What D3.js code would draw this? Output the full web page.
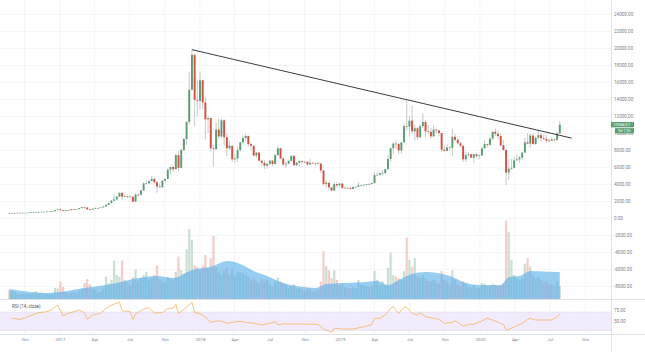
<!DOCTYPE html>
<html>
<head>
<meta charset="utf-8">
<script src="https://cdn.jsdelivr.net/npm/d3@7"></script>
<style>
  body { margin: 0; background: #fff; }
  svg { display: block; font-family: Roboto, "Noto Sans", sans-serif; }
</style>
</head>
<body>
<div id="chart"></div>
<script>
// weekly candles: [week start, open, high, low, close, volume]
var candles = [
  ["2016-08-22",583,588,565,573,11], ["2016-08-29",573,613,567,607,10], ["2016-09-05",607,630,600,608,9],
  ["2016-09-12",608,614,600,609,7], ["2016-09-19",609,612,590,602,6], ["2016-09-26",602,617,598,612,7],
  ["2016-10-03",612,622,605,616,6], ["2016-10-10",616,645,612,640,7], ["2016-10-17",640,660,628,657,6],
  ["2016-10-24",657,720,652,700,9], ["2016-10-31",700,742,690,704,10], ["2016-11-07",704,718,690,705,8],
  ["2016-11-14",705,752,700,730,8], ["2016-11-21",730,742,725,735,6], ["2016-11-28",735,773,730,765,7],
  ["2016-12-05",765,780,755,775,6], ["2016-12-12",775,792,770,790,7], ["2016-12-19",790,935,788,920,14],
  ["2016-12-26",920,1003,880,998,13],
  ["2017-01-02",998,1155,810,910,22], ["2017-01-09",910,910,750,822,15], ["2017-01-16",822,925,815,920,9],
  ["2017-01-23",920,930,880,915,7], ["2017-01-30",915,1030,915,1020,8], ["2017-02-06",1020,1060,940,1000,9],
  ["2017-02-13",1000,1060,990,1050,7], ["2017-02-20",1050,1200,1040,1170,10], ["2017-02-27",1170,1290,1150,1270,13],
  ["2017-03-06",1270,1330,1050,1230,20], ["2017-03-13",1230,1250,950,1020,25], ["2017-03-20",1020,1080,890,965,18],
  ["2017-03-27",965,1100,935,1090,13], ["2017-04-03",1090,1210,1070,1185,12], ["2017-04-10",1185,1215,1160,1170,8],
  ["2017-04-17",1170,1260,1165,1240,9], ["2017-04-24",1240,1350,1235,1350,13], ["2017-05-01",1350,1640,1340,1550,28],
  ["2017-05-08",1550,1800,1550,1760,20], ["2017-05-15",1760,2100,1720,2040,24], ["2017-05-22",2040,2780,2010,2180,48],
  ["2017-05-29",2180,2560,2070,2520,30], ["2017-06-05",2520,3000,2450,2950,28], ["2017-06-12",2950,2980,2080,2520,48],
  ["2017-06-19",2520,2780,2400,2560,24], ["2017-06-26",2560,2600,2320,2500,20], ["2017-07-03",2500,2660,2430,2510,16],
  ["2017-07-10",2510,2520,1840,1920,27], ["2017-07-17",1920,2900,1920,2750,37], ["2017-07-24",2750,2800,2480,2740,22],
  ["2017-07-31",2740,3300,2620,3240,26], ["2017-08-07",3240,4200,3200,4060,30], ["2017-08-14",4060,4480,3950,4100,34],
  ["2017-08-21",4100,4400,3980,4350,24], ["2017-08-28",4350,4980,4300,4600,26], ["2017-09-04",4600,4750,4100,4200,30],
  ["2017-09-11",4200,4350,2970,3700,42], ["2017-09-18",3700,4100,3570,3620,24], ["2017-09-25",3620,4400,3600,4400,22],
  ["2017-10-02",4400,4620,4150,4600,20], ["2017-10-09",4600,5850,4580,5680,28], ["2017-10-16",5680,6000,5100,6000,26],
  ["2017-10-23",6000,6200,5450,5750,24], ["2017-10-30",5750,7600,5700,7400,34], ["2017-11-06",7400,7900,5500,5900,53],
  ["2017-11-13",5900,8200,5850,8000,36], ["2017-11-20",8000,9400,7900,9300,32], ["2017-11-27",9300,11400,8600,11300,62],
  ["2017-12-04",11300,17200,11000,15100,88], ["2017-12-11",15100,19800,15000,19200,74], ["2017-12-18",19200,19200,10800,13900,42],
  ["2017-12-25",13900,16300,12000,13800,40],
  ["2018-01-01",13800,17250,12800,16200,36], ["2018-01-08",16200,16300,12800,13600,42], ["2018-01-15",13600,14200,9200,11600,55],
  ["2018-01-22",11600,12000,10000,11750,38], ["2018-01-29",11750,11800,7800,8200,51], ["2018-02-05",8200,8600,6000,8100,79],
  ["2018-02-12",8100,11200,8000,10400,40], ["2018-02-19",10400,11700,9300,9600,34], ["2018-02-26",9600,11700,9400,11500,30],
  ["2018-03-05",11500,11600,8500,9500,36], ["2018-03-12",9500,9900,7300,8200,40], ["2018-03-19",8200,9100,8000,8500,30],
  ["2018-03-26",8500,8500,6600,6900,38], ["2018-04-02",6900,7500,6500,7000,28], ["2018-04-09",7000,8400,6600,8000,34],
  ["2018-04-16",8000,9000,7800,8900,33], ["2018-04-23",8900,9750,8700,9400,32], ["2018-04-30",9400,9950,9000,9650,30],
  ["2018-05-07",9650,9700,8350,8700,28], ["2018-05-14",8700,8880,7950,8500,24], ["2018-05-21",8500,8500,7300,7350,26],
  ["2018-05-28",7350,7750,7050,7700,22], ["2018-06-04",7700,7780,6650,6750,20], ["2018-06-11",6750,6800,6120,6500,25],
  ["2018-06-18",6500,6850,5750,6150,22], ["2018-06-25",6150,6400,5800,6380,24], ["2018-07-02",6380,6800,6250,6750,18],
  ["2018-07-09",6750,6800,6080,6350,16], ["2018-07-16",6350,7600,6300,7400,23], ["2018-07-23",7400,8500,7350,8200,27],
  ["2018-07-30",8200,8250,6900,7000,22], ["2018-08-06",7000,7150,6100,6300,20], ["2018-08-13",6300,6620,5880,6400,19],
  ["2018-08-20",6400,6850,6300,6700,14], ["2018-08-27",6700,7400,6700,7300,16], ["2018-09-03",7300,7410,6200,6200,18],
  ["2018-09-10",6200,6580,6150,6500,13], ["2018-09-17",6500,6800,6100,6700,14], ["2018-09-24",6700,6750,6400,6600,12],
  ["2018-10-01",6600,6750,6450,6610,11], ["2018-10-08",6610,6700,6150,6300,14], ["2018-10-15",6300,7000,6300,6500,13],
  ["2018-10-22",6500,6530,6400,6420,9], ["2018-10-29",6420,6500,6250,6480,10], ["2018-11-05",6480,6600,6350,6400,11],
  ["2018-11-12",6400,6450,5300,5600,22], ["2018-11-19",5600,5600,3800,4000,60], ["2018-11-26",4000,4400,3500,4150,41],
  ["2018-12-03",4150,4150,3300,3600,36], ["2018-12-10",3600,3600,3150,3230,26], ["2018-12-17",3230,4200,3220,4000,36],
  ["2018-12-24",4000,4260,3550,3850,24], ["2018-12-31",3850,4100,3650,4050,18],
  ["2019-01-07",4050,4100,3500,3510,20], ["2019-01-14",3510,3720,3480,3550,15], ["2019-01-21",3550,3650,3480,3540,13],
  ["2019-01-28",3540,3610,3350,3420,14], ["2019-02-04",3420,3700,3390,3650,15], ["2019-02-11",3650,3690,3550,3670,13],
  ["2019-02-18",3670,4200,3650,3850,24], ["2019-02-25",3850,3900,3700,3880,18], ["2019-03-04",3880,3950,3700,3920,17],
  ["2019-03-11",3920,4000,3820,4000,16], ["2019-03-18",4000,4100,3950,3990,15], ["2019-03-25",3990,4150,3960,4100,16],
  ["2019-04-01",4100,5350,4100,5050,35], ["2019-04-08",5050,5450,4950,5070,24], ["2019-04-15",5070,5350,5020,5280,18],
  ["2019-04-22",5280,5650,5000,5300,22], ["2019-04-29",5300,5800,5200,5750,18], ["2019-05-06",5750,7400,5700,6950,39],
  ["2019-05-13",6950,8350,6600,8200,58], ["2019-05-20",8200,8950,7500,8750,30], ["2019-05-27",8750,9100,8100,8720,28],
  ["2019-06-03",8720,8800,7500,7950,26], ["2019-06-10",7950,8950,7550,8900,24], ["2019-06-17",8900,11000,8900,10800,35],
  ["2019-06-24",10800,13800,10300,10750,77], ["2019-07-01",10750,12000,9700,11450,49], ["2019-07-08",11450,13200,9950,10200,40],
  ["2019-07-15",10200,11000,9100,10550,51], ["2019-07-22",10550,10650,9150,9500,28], ["2019-07-29",9500,11000,9400,10800,26],
  ["2019-08-05",10800,12300,10600,11300,30], ["2019-08-12",11300,11500,9500,10200,26], ["2019-08-19",10200,10950,9900,10150,22],
  ["2019-08-26",10150,10600,9350,9600,22], ["2019-09-02",9600,10900,9600,10400,24], ["2019-09-09",10400,10450,9900,10300,20],
  ["2019-09-16",10300,10350,9600,10000,19], ["2019-09-23",10000,10000,7750,8050,35], ["2019-09-30",8050,8500,7800,7900,24],
  ["2019-10-07",7900,8700,7800,8300,22], ["2019-10-14",8300,8450,7900,8250,18], ["2019-10-21",8250,10500,7300,9550,36],
  ["2019-10-28",9550,9950,9000,9200,24], ["2019-11-04",9200,9500,8700,8800,18], ["2019-11-11",8800,9000,8300,8500,15],
  ["2019-11-18",8500,8500,6600,6900,22], ["2019-11-25",6900,7800,6600,7400,20], ["2019-12-02",7400,7750,7250,7500,15],
  ["2019-12-09",7500,7550,7050,7100,14], ["2019-12-16",7100,7500,6450,7500,17], ["2019-12-23",7500,7650,7150,7300,13],
  ["2019-12-30",7300,7500,6870,7350,14],
  ["2020-01-06",7350,8450,7350,8180,20], ["2020-01-13",8180,9190,8150,8700,19], ["2020-01-20",8700,8750,8250,8600,16],
  ["2020-01-27",8600,9550,8550,9350,17], ["2020-02-03",9350,10150,9150,10150,19], ["2020-02-10",10150,10500,9650,9900,18],
  ["2020-02-17",9900,10300,9300,9650,16], ["2020-02-24",9650,9950,8400,8550,17], ["2020-03-02",8550,9180,7900,8000,19],
  ["2020-03-09",8000,8150,3850,5350,98], ["2020-03-16",5350,6900,4450,5800,84], ["2020-03-23",5800,6950,5700,5900,49],
  ["2020-03-30",5900,7200,5850,6780,30], ["2020-04-06",6780,7450,6750,6900,26], ["2020-04-13",6900,7300,6500,7120,24],
  ["2020-04-20",7120,7750,6800,7700,26], ["2020-04-27",7700,9450,7650,8900,44], ["2020-05-04",8900,10000,8650,8750,51],
  ["2020-05-11",8750,9950,8200,9700,41], ["2020-05-18",9700,9950,8650,8700,30], ["2020-05-25",8700,9600,8600,9450,26],
  ["2020-06-01",9450,10400,9250,9750,28], ["2020-06-08",9750,10000,8950,9400,24], ["2020-06-15",9400,9800,9200,9300,20],
  ["2020-06-22",9300,9800,8850,9100,22], ["2020-06-29",9100,9300,8900,9070,18], ["2020-07-06",9070,9450,9050,9250,19],
  ["2020-07-13",9250,9350,9050,9200,16], ["2020-07-20",9200,10100,9100,9950,22], ["2020-07-27",9950,11400,9900,10984.07,16]
];

// volume moving average (drawn as an area)
var volumeMA = [
  ["2016-08-22",12.5], ["2016-11-28",7.5], ["2017-03-06",13.8], ["2017-05-29",20], ["2017-07-10",25],
  ["2017-09-11",28.8], ["2017-10-23",26.3], ["2017-12-11",36.3], ["2018-02-05",41.3], ["2018-03-12",47.5],
  ["2018-04-16",43.8], ["2018-05-21",35], ["2018-06-25",28.8], ["2018-08-06",20], ["2018-09-17",15.6],
  ["2018-10-29",13.8], ["2018-11-26",18.8], ["2019-03-11",21.3], ["2019-04-08",22.5], ["2019-05-06",17.5],
  ["2019-06-03",23.8], ["2019-07-08",31.3], ["2019-08-12",33.8], ["2019-10-14",28.8], ["2019-11-25",20],
  ["2019-12-30",17.5], ["2020-02-24",17.5], ["2020-03-16",27.5], ["2020-04-13",28.8], ["2020-05-11",35],
  ["2020-07-20",33.8], ["2020-07-27",33.8]
];

// RSI (14, close)
var rsiPoints = [
  ["2016-08-29",56.5], ["2016-09-19",54.3], ["2016-10-03",57.7], ["2016-10-24",65], ["2016-11-07",68.5],
  ["2016-11-28",70.6], ["2016-12-12",75.8], ["2016-12-26",85], ["2017-01-09",62], ["2017-01-23",67.2],
  ["2017-02-06",70.6], ["2017-02-20",74.3], ["2017-03-06",68.5], ["2017-03-13",54.3], ["2017-03-27",63.5],
  ["2017-04-17",67.2], ["2017-05-01",78], ["2017-05-15",85], ["2017-06-05",90.8], ["2017-06-12",72.8],
  ["2017-07-03",70.6], ["2017-07-10",54.3], ["2017-07-17",65.7], ["2017-08-07",76.4], ["2017-08-21",80],
  ["2017-09-04",67.2], ["2017-09-11",68.5], ["2017-09-25",68.5], ["2017-10-09",78], ["2017-10-23",78],
  ["2017-10-30",86.5], ["2017-11-06",67.2], ["2017-11-20",75.8], ["2017-12-11",90.8], ["2017-12-18",68.5],
  ["2018-01-01",67.2], ["2018-01-15",58.6], ["2018-01-29",47.8], ["2018-02-12",50.6], ["2018-02-26",50.6],
  ["2018-03-12",45.7], ["2018-03-26",47.8], ["2018-04-16",50], ["2018-04-30",47.8], ["2018-05-21",45.7],
  ["2018-06-11",42], ["2018-07-02",45.7], ["2018-07-16",49], ["2018-07-23",42], ["2018-08-06",44.8],
  ["2018-08-20",44.2], ["2018-09-17",44.2], ["2018-10-15",43.5], ["2018-11-05",43.5], ["2018-11-19",32.8],
  ["2018-11-26",31.3], ["2018-12-10",26.4], ["2018-12-17",35], ["2019-01-07",33.4], ["2019-02-04",33.4],
  ["2019-02-25",37.1], ["2019-03-25",42.7], ["2019-04-01",56.5], ["2019-04-15",56.5], ["2019-04-29",63.5],
  ["2019-05-13",78], ["2019-05-20",81.4], ["2019-06-03",67.2], ["2019-06-17",80], ["2019-06-24",80],
  ["2019-07-08",67.2], ["2019-07-22",63.5], ["2019-07-29",68.5], ["2019-08-12",59.9], ["2019-09-02",56.5],
  ["2019-09-16",54.3], ["2019-09-30",45.7], ["2019-10-21",47.8], ["2019-10-28",51.3], ["2019-11-18",39.9],
  ["2019-12-02",43.5], ["2019-12-16",43.5], ["2020-01-06",50.6], ["2020-01-20",56.5], ["2020-02-03",52.8],
  ["2020-02-24",45.7], ["2020-03-02",43.5], ["2020-03-09",31.3], ["2020-03-23",35], ["2020-04-06",40.5],
  ["2020-04-20",45.7], ["2020-05-04",54.3], ["2020-05-11",56.5], ["2020-05-25",52.8], ["2020-06-15",52.8],
  ["2020-07-06",52.8], ["2020-07-20",59.9], ["2020-07-27",65.7]
];

// hand-drawn trend line
var trendLine = [["2017-12-11",19800], ["2020-08-27",9400]];

var priceTicks = [24000, 22000, 20000, 18000, 16000, 14000, 12000, 10000, 8000, 6000, 4000, 2000, 0,
                  -2000, -4000, -6000, -8000];
var rsiTicks = [75, 50];
var rsiBand = [70, 30];
var timeTicks = [
  ["2016-10-01","Oct"], ["2017-01-01","2017"], ["2017-04-01","Apr"], ["2017-07-01","Jul"], ["2017-10-01","Oct"],
  ["2018-01-01","2018"], ["2018-04-01","Apr"], ["2018-07-01","Jul"], ["2018-10-01","Oct"],
  ["2019-01-01","2019"], ["2019-04-01","Apr"], ["2019-07-01","Jul"], ["2019-10-01","Oct"],
  ["2020-01-01","2020"], ["2020-04-01","Apr"], ["2020-07-01","Jul"], ["2020-10-01","Oct"]
];
var lastPrice = 10984.07;
var countdown = "3d 12h";

// ---- layout
var width = 645, height = 352;
var axisX = 611;          // right price scale line
var mainBottom = 299;     // bottom of price pane
var rsiTop = 300, rsiBottom = 334;

var parse = d3.timeParse("%Y-%m-%d");
var fmt = d3.format(".2f");
var tickText = function(d) { return fmt(d).replace("\u2212", "-"); };

var colUp = "#5a9d74", colDown = "#d5503f";

var svg = d3.select("#chart").append("svg")
    .attr("width", width)
    .attr("height", height);

// scales
var x = d3.scaleTime()
    .domain([parse("2017-01-01"), parse("2020-01-01")])
    .range([60, 480]);
var y = d3.scaleLinear().domain([0, 24000]).range([218, 14]);
var yVol = d3.scaleLinear().domain([0, 100]).range([mainBottom, 219]);
var yRsi = d3.scaleLinear().domain([50, 75]).range([321.3, 309.7]);

var weekPx = x(parse("2017-01-08")) - x(parse("2017-01-01"));

// clip paths
var defs = svg.append("defs");
defs.append("clipPath").attr("id", "clip-main")
  .append("rect").attr("x", 0).attr("y", 0).attr("width", axisX).attr("height", mainBottom);
defs.append("clipPath").attr("id", "clip-rsi")
  .append("rect").attr("x", 0).attr("y", rsiTop).attr("width", axisX).attr("height", rsiBottom - rsiTop);

// grid
var gGrid = svg.append("g").attr("class", "grid");
gGrid.selectAll("line.h")
    .data(priceTicks)
    .enter().append("line")
      .attr("class", "h")
      .attr("x1", 0).attr("x2", axisX)
      .attr("y1", d => Math.round(y(d)) + 0.5).attr("y2", d => Math.round(y(d)) + 0.5)
      .attr("stroke", "#f0f2f5").attr("stroke-width", 0.6);
gGrid.selectAll("line.v")
    .data(timeTicks)
    .enter().append("line")
      .attr("class", "v")
      .attr("x1", d => x(parse(d[0]))).attr("x2", d => x(parse(d[0])))
      .attr("y1", 0).attr("y2", rsiBottom)
      .attr("stroke", "#eef0f3").attr("stroke-width", 0.6);

// volume bars, then the translucent volume MA area over them
var gMain = svg.append("g").attr("clip-path", "url(#clip-main)");

gMain.append("g").selectAll("rect")
    .data(candles)
    .enter().append("rect")
      .attr("x", d => x(parse(d[0])) - weekPx * 0.42)
      .attr("width", weekPx * 0.84)
      .attr("y", d => yVol(d[5]))
      .attr("height", d => mainBottom - yVol(d[5]))
      .attr("fill", d => d[4] >= d[1] ? "rgba(107,165,131,0.35)" : "rgba(215,84,66,0.28)");

var area = d3.area()
    .x(d => x(parse(d[0])))
    .y0(mainBottom)
    .y1(d => yVol(d[1]))
    .curve(d3.curveMonotoneX);
gMain.append("path")
    .datum(volumeMA)
    .attr("d", area)
    .attr("fill", "rgb(83,172,233)")
    .attr("fill-opacity", 0.6);

// candles
var gCandles = gMain.append("g");
gCandles.selectAll("line")
    .data(candles)
    .enter().append("line")
      .attr("x1", d => x(parse(d[0]))).attr("x2", d => x(parse(d[0])))
      .attr("y1", d => y(d[2])).attr("y2", d => y(d[3]))
      .attr("stroke", "#a4a6aa").attr("stroke-width", 0.6);
gCandles.selectAll("rect")
    .data(candles)
    .enter().append("rect")
      .attr("x", d => x(parse(d[0])) - weekPx * 0.36)
      .attr("width", weekPx * 0.72)
      .attr("y", d => y(Math.max(d[1], d[4])))
      .attr("height", d => Math.max(0.6, Math.abs(y(d[1]) - y(d[4]))))
      .attr("fill", d => d[4] >= d[1] ? colUp : colDown);

// trend line
var line = d3.line().x(d => x(parse(d[0]))).y(d => y(d[1]));
gMain.append("path")
    .datum(trendLine)
    .attr("d", line)
    .attr("fill", "none")
    .attr("stroke", "#262626")
    .attr("stroke-width", 0.9);

// RSI pane
var gRsi = svg.append("g").attr("clip-path", "url(#clip-rsi)");
gRsi.append("rect")
    .attr("x", 0).attr("width", axisX)
    .attr("y", yRsi(rsiBand[0]))
    .attr("height", yRsi(rsiBand[1]) - yRsi(rsiBand[0]))
    .attr("fill", "#f2ebfb");
gRsi.selectAll("line.band")
    .data(rsiBand)
    .enter().append("line")
      .attr("class", "band")
      .attr("x1", 0).attr("x2", axisX)
      .attr("y1", d => yRsi(d)).attr("y2", d => yRsi(d))
      .attr("stroke", "#c8bedb").attr("stroke-width", 0.5)
      .attr("stroke-dasharray", "1.2,1.2");
gRsi.append("path")
    .datum(rsiPoints)
    .attr("d", d3.line().x(d => x(parse(d[0]))).y(d => yRsi(d[1])))
    .attr("fill", "none")
    .attr("stroke", "#f6b45f")
    .attr("stroke-width", 0.8);

svg.append("text")
    .attr("x", 12).attr("y", 308.3)
    .attr("font-size", 4.5)
    .attr("fill", "#555")
    .text("RSI (14, close)");

// pane borders
svg.append("line")
    .attr("x1", 0).attr("x2", width)
    .attr("y1", mainBottom + 0.5).attr("y2", mainBottom + 0.5)
    .attr("stroke", "#d7dae0").attr("stroke-width", 0.8);
svg.append("line")
    .attr("x1", 0).attr("x2", width)
    .attr("y1", rsiBottom + 0.5).attr("y2", rsiBottom + 0.5)
    .attr("stroke", "#d7dae0").attr("stroke-width", 0.8);
svg.append("line")
    .attr("x1", axisX + 0.5).attr("x2", axisX + 0.5)
    .attr("y1", 0).attr("y2", height)
    .attr("stroke", "#d7dae0").attr("stroke-width", 0.8);

// axes
function styleAxis(g, size) {
  g.select(".domain").remove();
  g.attr("font-family", null).attr("font-size", size);
  g.selectAll("text").attr("fill", "#7d7f84");
}

svg.append("g")
    .attr("transform", "translate(" + axisX + ",0)")
    .call(d3.axisRight(y).tickValues(priceTicks).tickSize(0).tickPadding(3).tickFormat(tickText))
    .call(styleAxis, 4.6);

svg.append("g")
    .attr("transform", "translate(" + axisX + ",0)")
    .call(d3.axisRight(yRsi).tickValues(rsiTicks).tickSize(0).tickPadding(3).tickFormat(tickText))
    .call(styleAxis, 4.6);

var tickLabels = new Map(timeTicks.map(d => [+parse(d[0]), d[1]]));
svg.append("g")
    .attr("transform", "translate(0," + rsiBottom + ")")
    .call(d3.axisBottom(x)
        .tickValues(timeTicks.map(d => parse(d[0])))
        .tickSize(0).tickPadding(4)
        .tickFormat(d => tickLabels.get(+d)))
    .call(styleAxis, 4.4);

// last price badge + countdown (they sit over the 10000 label, as in the source)
var gBadge = svg.append("g");
var yl = y(lastPrice);
gBadge.append("rect")
    .attr("x", axisX).attr("y", yl - 2.7).attr("width", 23).attr("height", 5.4)
    .attr("fill", "#5c9f72");
gBadge.append("text")
    .attr("x", axisX + 2).attr("y", yl + 1.4)
    .attr("font-size", 4.1).attr("fill", "#fff")
    .text(fmt(lastPrice));
gBadge.append("rect")
    .attr("x", axisX + 4).attr("y", yl + 3.5).attr("width", 19).attr("height", 5.2)
    .attr("fill", "#5c9f72");
gBadge.append("text")
    .attr("x", axisX + 7).attr("y", yl + 7.5)
    .attr("font-size", 4.1).attr("fill", "#fff")
    .text(countdown);
</script>
</body>
</html>
